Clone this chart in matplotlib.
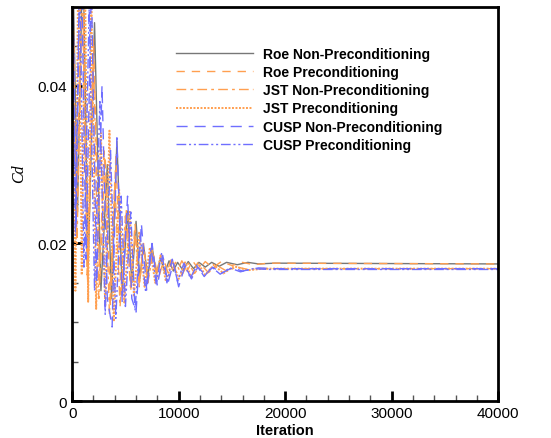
"""Cd convergence history for six schemes (Roe / JST / CUSP, with and without preconditioning)."""

import matplotlib.pyplot as plt
from matplotlib.ticker import MultipleLocator

plt.rcParams.update({
    "font.family": ["Liberation Sans", "DejaVu Sans"],
    "font.size": 11,
})

ORANGE, BLUE, GRAY = "#ff9f50", "#6f6fff", "#777777"

# values: (iteration, Cd) at peaks and troughs
roe_np_it = [0, 500, 1000, 1500, 2100, 2700, 3300, 3700, 4200, 4700, 5200, 5600,
             6000, 6350, 6700, 7100, 7500, 7900, 8300, 8700, 9100, 9500, 9900,
             10400, 10900, 11400, 11900, 12500, 13100, 13800, 14500, 15500,
             16500, 17500, 19000, 40000]
roe_np_cd = [0.060, 0.024, 0.058, 0.017, 0.048, 0.014, 0.030, 0.013, 0.033, 0.014,
             0.0241, 0.0150, 0.0228, 0.0155, 0.0198, 0.0158, 0.0196, 0.0162,
             0.0181, 0.0163, 0.0178, 0.0165, 0.0176, 0.0166, 0.0177, 0.0168,
             0.0176, 0.0170, 0.0176, 0.0171, 0.0176, 0.0173, 0.0176, 0.0174,
             0.0175, 0.0174]

roe_p_it = [0, 400, 900, 1400, 2000, 2600, 3100, 3600, 4100, 4600, 5100, 5500,
            5900, 6300, 6700, 7100, 7500, 7900, 8300, 8800, 9300, 9800, 10300,
            10800, 11300, 11900, 12500, 13200, 14000, 15000, 16000, 17000,
            18500, 40000]
roe_p_cd = [0.058, 0.021, 0.060, 0.016, 0.046, 0.015, 0.031, 0.012, 0.031, 0.013,
            0.0245, 0.0145, 0.0225, 0.0150, 0.0200, 0.0152, 0.0192, 0.0158,
            0.0184, 0.0160, 0.0180, 0.0163, 0.0178, 0.0165, 0.0178, 0.0167,
            0.0177, 0.0169, 0.0177, 0.0172, 0.0176, 0.0173, 0.0175, 0.0174]

jst_np_it = [0, 450, 950, 1450, 2000, 2500, 3000, 3500, 4000, 4500, 5000, 5500,
             5900, 6300, 6700, 7100, 7600, 8100, 8600, 9100, 9700, 10300, 10900,
             11500, 12100, 12800, 13600, 14500, 15500, 16500, 18000, 40000]
jst_np_cd = [0.055, 0.020, 0.052, 0.015, 0.044, 0.013, 0.032, 0.011, 0.028, 0.012,
             0.0235, 0.0140, 0.0215, 0.0145, 0.0195, 0.0150, 0.0188, 0.0155,
             0.0180, 0.0158, 0.0176, 0.0160, 0.0175, 0.0162, 0.0173, 0.0163,
             0.0172, 0.0165, 0.0170, 0.0167, 0.0168, 0.0168]

jst_p_it = [0, 300, 600, 900, 1200, 1500, 1800, 2250, 2700, 3100, 3500, 3900,
            4400, 4900, 5400, 5800, 6300, 6800, 7300, 7800, 8300, 8800, 9400,
            10000, 10600, 11200, 11800, 12500, 13300, 14200, 15200, 16500,
            18000, 40000]
jst_p_cd = [0.062, 0.014, 0.060, 0.016, 0.055, 0.0126, 0.050, 0.0117, 0.034, 0.012,
            0.0343, 0.0101, 0.027, 0.0125, 0.024, 0.0134, 0.0215, 0.0145,
            0.0195, 0.0150, 0.0185, 0.0152, 0.0178, 0.0155, 0.0176, 0.0157,
            0.0175, 0.0160, 0.0173, 0.0162, 0.0171, 0.0166, 0.0168, 0.0168]

cusp_np_it = [0, 350, 800, 1300, 1800, 2300, 2800, 3300, 3750, 4200, 4700, 5200,
              5600, 6000, 6500, 7000, 7500, 8000, 8500, 9000, 9500, 10000,
              10600, 11200, 11800, 12500, 13200, 14000, 15000, 16000, 17500,
              19000, 40000]
cusp_np_cd = [0.060, 0.022, 0.062, 0.018, 0.053, 0.015, 0.040, 0.013, 0.0094,
              0.0334, 0.0125, 0.026, 0.013, 0.0113, 0.0225, 0.0140, 0.0200,
              0.0146, 0.0185, 0.0150, 0.0175, 0.0145, 0.0172, 0.0155, 0.0170,
              0.0160, 0.0170, 0.0162, 0.0169, 0.0165, 0.0169, 0.0168, 0.0168]

cusp_p_it = [0, 300, 700, 1100, 1600, 2100, 2600, 3100, 3600, 4100, 4600, 5000,
             5500, 5900, 6400, 6900, 7400, 7900, 8400, 8900, 9400, 9900, 10500,
             11100, 11700, 12400, 13100, 13900, 14800, 15800, 17000, 18500,
             40000]
cusp_p_cd = [0.058, 0.021, 0.056, 0.017, 0.050, 0.014, 0.038, 0.011, 0.0318,
             0.0105, 0.026, 0.012, 0.024, 0.0115, 0.0210, 0.0138, 0.0195,
             0.0148, 0.0188, 0.0150, 0.0180, 0.0152, 0.0175, 0.0156, 0.0172,
             0.0158, 0.0170, 0.0161, 0.0169, 0.0164, 0.0168, 0.0167, 0.0167]

fig = plt.figure(figsize=(5.51, 4.39), dpi=100)
ax = fig.add_axes([0.131, 0.084, 0.773, 0.898])

ax.plot(roe_np_it, roe_np_cd, color=GRAY, lw=1.0, ls="-",
        label="Roe Non-Preconditioning")
ax.plot(roe_p_it, roe_p_cd, color=ORANGE, lw=1.0, ls=(0, (6, 5)),
        label="Roe Preconditioning")
ax.plot(jst_np_it, jst_np_cd, color=ORANGE, lw=1.0, ls=(0, (7, 3, 2, 3)),
        label="JST Non-Preconditioning")
ax.plot(jst_p_it, jst_p_cd, color=ORANGE, lw=1.4, ls=(0, (1, 0.8)),
        label="JST Preconditioning")
ax.plot(cusp_np_it, cusp_np_cd, color=BLUE, lw=1.0, ls=(0, (8, 5)),
        label="CUSP Non-Preconditioning")
ax.plot(cusp_p_it, cusp_p_cd, color=BLUE, lw=1.0, ls=(0, (7, 2, 1.5, 2, 1.5, 2)),
        label="CUSP Preconditioning")

ax.set_xlim(0, 40000)
ax.set_ylim(0, 0.05)
ax.xaxis.set_major_locator(MultipleLocator(10000))
ax.xaxis.set_minor_locator(MultipleLocator(2000))
ax.yaxis.set_major_locator(MultipleLocator(0.02))
ax.yaxis.set_minor_locator(MultipleLocator(0.005))
ax.set_yticks([0, 0.02, 0.04])
ax.set_yticklabels(["0", "0.02", "0.04"])
ax.tick_params(which="both", direction="in", top=False, right=False,
               labelsize=11, color="black")
ax.tick_params(which="major", length=7, width=2)
ax.tick_params(which="minor", length=4, width=1, color="#555555")
for s in ax.spines.values():
    s.set_linewidth(2)

ax.set_xlabel("Iteration", fontsize=10.5, fontweight="bold", labelpad=2)
ax.set_ylabel("Cd", fontsize=11.5, fontstyle="italic",
              family=["Liberation Serif", "DejaVu Serif"])
ax.yaxis.set_label_coords(-0.105, 0.58)

leg = ax.legend(loc="upper left", bbox_to_anchor=(0.215, 0.93), frameon=False,
                handlelength=5.5, handletextpad=0.75, labelspacing=0.3,
                prop={"weight": "bold", "size": 10})

fig.savefig("out.png")
